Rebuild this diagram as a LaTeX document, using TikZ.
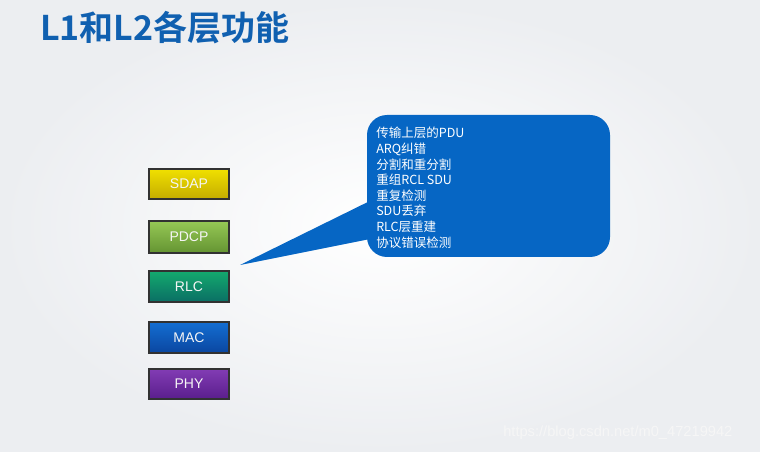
\documentclass[tikz,border=0pt]{standalone}
\usepackage{fontspec}
\setmainfont{Liberation Sans}
\newfontfamily\cjk{Noto Sans CJK SC}
\newfontfamily\cjkbold{Noto Sans CJK SC Bold}
\definecolor{titleblue}{RGB}{16,96,176}
\definecolor{callblue}{RGB}{6,102,196}
\definecolor{bgcol}{RGB}{236,238,241}
\definecolor{edgecol}{RGB}{50,50,50}

\begin{document}
\begin{tikzpicture}[x=0.75pt,y=-0.75pt,
  layer/.style={draw=edgecol,line width=0.8pt},
  laytext/.style={color=white!92!gray,font=\fontsize{10.5}{12}\selectfont},
  callout/.style={fill=callblue,rounded corners=15pt},
  calltext/.style={color=white,anchor=north west,align=left,inner sep=0pt,
    font=\cjk\fontsize{9.4}{11.7}\selectfont}]

  % background
  \shade[inner color=white,outer color=bgcol] (0,0) rectangle (760,452);
  \useasboundingbox (0,0) rectangle (760,452);

  \node[anchor=west,inner sep=0pt,color=titleblue,font=\cjkbold\fontsize{25.5}{28}\selectfont] (title) at (40,28) {L1和L2各层功能};

  % protocol stack
  \draw[layer,top color={rgb,255:red,240;green,224;blue,0},bottom color={rgb,255:red,196;green,172;blue,0}] (149,169) rectangle (229,199) node[laytext,midway] (sdap) {SDAP};
  \draw[layer,top color={rgb,255:red,150;green,200;blue,85},bottom color={rgb,255:red,100;green,148;blue,50}] (149,221) rectangle (229,253) node[laytext,midway] (pdcp) {PDCP};
  \draw[layer,top color={rgb,255:red,20;green,170;blue,110},bottom color={rgb,255:red,10;green,110;blue,100}] (149,271) rectangle (229,302) node[laytext,midway] (rlc) {RLC};
  \draw[layer,top color={rgb,255:red,20;green,110;blue,210},bottom color={rgb,255:red,10;green,70;blue,160}] (149,322) rectangle (229,353) node[laytext,midway] (mac) {MAC};
  \draw[layer,top color={rgb,255:red,130;green,60;blue,180},bottom color={rgb,255:red,90;green,30;blue,140}] (149,369) rectangle (229,399) node[laytext,midway] (phy) {PHY};

  % RLC functions
  \coordinate (tip) at (240,265);
  \coordinate (pa) at (380,196);
  \coordinate (pb) at (380,237);
  \fill[callblue] (tip) -- (pa) -- (pb) -- cycle;
  \fill[callout] (367,115) rectangle (610,257);
  \node[calltext] (funcs) at (376,127) {传输上层的PDU\\ARQ纠错\\分割和重分割\\重组RCL SDU\\重复检测\\SDU丢弃\\RLC层重建\\协议错误检测};

  \node[anchor=west,inner sep=0pt,color=gray!7,font=\fontsize{11}{13}\selectfont] (mark) at (503,433) {https://blog.csdn.net/m0\_47219942};

\end{tikzpicture}
\end{document}
